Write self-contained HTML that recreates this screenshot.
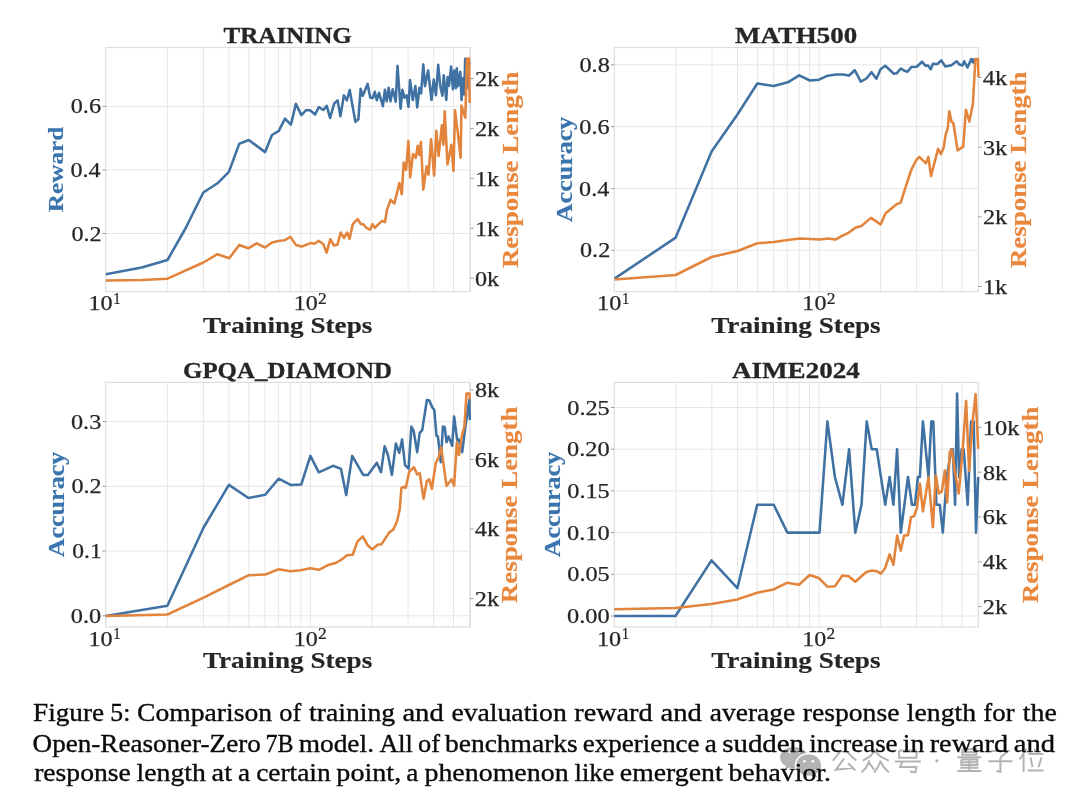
<!DOCTYPE html>
<html><head><meta charset="utf-8"><style>
html,body{margin:0;padding:0;background:#fff;width:1080px;height:804px;overflow:hidden}
svg{display:block;will-change:transform}
text{font-family:"Liberation Serif",serif}
</style></head><body>
<svg width="1080" height="804" viewBox="0 0 1080 804">
<rect width="1080" height="804" fill="#fff"/>
<path d="M167.32 47.50V291.60M203.37 47.50V291.60M228.94 47.50V291.60M248.78 47.50V291.60M264.99 47.50V291.60M278.69 47.50V291.60M290.56 47.50V291.60M301.03 47.50V291.60M310.40 47.50V291.60M372.02 47.50V291.60M408.07 47.50V291.60M433.64 47.50V291.60M453.48 47.50V291.60M469.69 47.50V291.60M105.70 233.50H470.40M105.70 169.95H470.40M105.70 106.40H470.40" stroke="#e6e6e6" stroke-width="1" fill="none"/>
<rect x="105.70" y="47.50" width="364.70" height="244.10" fill="none" stroke="#dedede" stroke-width="1.2"/>
<path d="M102.50 233.50H105.70M102.50 169.95H105.70M102.50 106.40H105.70M470.40 278.20H473.60M470.40 228.30H473.60M470.40 178.40H473.60M470.40 128.50H473.60M470.40 78.60H473.60" stroke="#9a9a9a" stroke-width="1" fill="none"/>
<text x="223.47" y="43.20" font-size="24.01" font-weight="bold" fill="#262626" stroke="#262626" stroke-width="0.3" textLength="128.45" lengthAdjust="spacingAndGlyphs">TRAINING</text>
<text x="71.45" y="240.59" font-size="21.94" font-weight="normal" fill="#262626" stroke="#262626" stroke-width="0.25" textLength="30.18" lengthAdjust="spacingAndGlyphs">0.2</text>
<text x="70.53" y="177.04" font-size="21.94" font-weight="normal" fill="#262626" stroke="#262626" stroke-width="0.25" textLength="30.15" lengthAdjust="spacingAndGlyphs">0.4</text>
<text x="70.77" y="113.49" font-size="21.94" font-weight="normal" fill="#262626" stroke="#262626" stroke-width="0.25" textLength="30.25" lengthAdjust="spacingAndGlyphs">0.6</text>
<text x="475.05" y="285.60" font-size="21.47" font-weight="normal" fill="#262626" stroke="#262626" stroke-width="0.25" textLength="24.15" lengthAdjust="spacingAndGlyphs">0k</text>
<text x="474.92" y="235.70" font-size="21.47" font-weight="normal" fill="#262626" stroke="#262626" stroke-width="0.25" textLength="24.28" lengthAdjust="spacingAndGlyphs">1k</text>
<text x="474.92" y="185.80" font-size="21.47" font-weight="normal" fill="#262626" stroke="#262626" stroke-width="0.25" textLength="24.28" lengthAdjust="spacingAndGlyphs">1k</text>
<text x="474.94" y="135.90" font-size="21.47" font-weight="normal" fill="#262626" stroke="#262626" stroke-width="0.25" textLength="24.26" lengthAdjust="spacingAndGlyphs">2k</text>
<text x="474.94" y="86.00" font-size="21.47" font-weight="normal" fill="#262626" stroke="#262626" stroke-width="0.25" textLength="24.26" lengthAdjust="spacingAndGlyphs">2k</text>
<text x="88.48" y="310.39" font-size="21.78" font-weight="normal" fill="#262626" stroke="#262626" stroke-width="0.25" textLength="24.14" lengthAdjust="spacingAndGlyphs">10</text>
<text x="113.30" y="303.50" font-size="15.75" font-weight="normal" fill="#262626" stroke="#262626" stroke-width="0.2" textLength="7.39" lengthAdjust="spacingAndGlyphs">1</text>
<text x="293.79" y="310.39" font-size="21.78" font-weight="normal" fill="#262626" stroke="#262626" stroke-width="0.25" textLength="24.03" lengthAdjust="spacingAndGlyphs">10</text>
<text x="318.13" y="303.50" font-size="15.71" font-weight="normal" fill="#262626" stroke="#262626" stroke-width="0.2" textLength="8.73" lengthAdjust="spacingAndGlyphs">2</text>
<text x="202.98" y="332.90" font-size="22.05" font-weight="bold" fill="#262626" stroke="#262626" stroke-width="0.15" textLength="169.38" lengthAdjust="spacingAndGlyphs">Training Steps</text>
<text transform="translate(63.25,211.90) rotate(-90)" x="-0.43" y="0" font-size="21.49" font-weight="bold" fill="#3a74ae" stroke="#3a74ae" stroke-width="0.15" textLength="85.61" lengthAdjust="spacingAndGlyphs">Reward</text>
<text transform="translate(517.51,267.66) rotate(-90)" x="-0.46" y="0" font-size="22.06" font-weight="bold" fill="#e9873c" stroke="#e9873c" stroke-width="0.15" textLength="196.68" lengthAdjust="spacingAndGlyphs">Response Length</text>
<path d="M675.92 47.50V291.60M711.97 47.50V291.60M737.54 47.50V291.60M757.38 47.50V291.60M773.59 47.50V291.60M787.29 47.50V291.60M799.16 47.50V291.60M809.63 47.50V291.60M819.00 47.50V291.60M880.62 47.50V291.60M916.67 47.50V291.60M942.24 47.50V291.60M962.08 47.50V291.60M614.30 250.30H978.40M614.30 188.47H978.40M614.30 126.63H978.40M614.30 64.80H978.40" stroke="#e6e6e6" stroke-width="1" fill="none"/>
<rect x="614.30" y="47.50" width="364.10" height="244.10" fill="none" stroke="#dedede" stroke-width="1.2"/>
<path d="M611.10 250.30H614.30M611.10 188.47H614.30M611.10 126.63H614.30M611.10 64.80H614.30M978.40 286.50H981.60M978.40 216.83H981.60M978.40 147.17H981.60M978.40 77.50H981.60" stroke="#9a9a9a" stroke-width="1" fill="none"/>
<text x="735.04" y="43.20" font-size="23.91" font-weight="bold" fill="#262626" stroke="#262626" stroke-width="0.3" textLength="122.18" lengthAdjust="spacingAndGlyphs">MATH500</text>
<text x="580.05" y="257.39" font-size="21.94" font-weight="normal" fill="#262626" stroke="#262626" stroke-width="0.25" textLength="30.18" lengthAdjust="spacingAndGlyphs">0.2</text>
<text x="579.13" y="195.56" font-size="21.94" font-weight="normal" fill="#262626" stroke="#262626" stroke-width="0.25" textLength="30.15" lengthAdjust="spacingAndGlyphs">0.4</text>
<text x="579.37" y="133.72" font-size="21.94" font-weight="normal" fill="#262626" stroke="#262626" stroke-width="0.25" textLength="30.25" lengthAdjust="spacingAndGlyphs">0.6</text>
<text x="579.45" y="71.89" font-size="21.94" font-weight="normal" fill="#262626" stroke="#262626" stroke-width="0.25" textLength="30.37" lengthAdjust="spacingAndGlyphs">0.8</text>
<text x="982.92" y="293.90" font-size="21.47" font-weight="normal" fill="#262626" stroke="#262626" stroke-width="0.25" textLength="24.28" lengthAdjust="spacingAndGlyphs">1k</text>
<text x="982.94" y="224.23" font-size="21.47" font-weight="normal" fill="#262626" stroke="#262626" stroke-width="0.25" textLength="24.26" lengthAdjust="spacingAndGlyphs">2k</text>
<text x="983.01" y="154.57" font-size="21.47" font-weight="normal" fill="#262626" stroke="#262626" stroke-width="0.25" textLength="24.19" lengthAdjust="spacingAndGlyphs">3k</text>
<text x="982.82" y="84.90" font-size="21.47" font-weight="normal" fill="#262626" stroke="#262626" stroke-width="0.25" textLength="24.39" lengthAdjust="spacingAndGlyphs">4k</text>
<text x="597.08" y="310.39" font-size="21.78" font-weight="normal" fill="#262626" stroke="#262626" stroke-width="0.25" textLength="24.14" lengthAdjust="spacingAndGlyphs">10</text>
<text x="621.90" y="303.50" font-size="15.75" font-weight="normal" fill="#262626" stroke="#262626" stroke-width="0.2" textLength="7.39" lengthAdjust="spacingAndGlyphs">1</text>
<text x="802.39" y="310.39" font-size="21.78" font-weight="normal" fill="#262626" stroke="#262626" stroke-width="0.25" textLength="24.03" lengthAdjust="spacingAndGlyphs">10</text>
<text x="826.73" y="303.50" font-size="15.71" font-weight="normal" fill="#262626" stroke="#262626" stroke-width="0.2" textLength="8.73" lengthAdjust="spacingAndGlyphs">2</text>
<text x="711.28" y="332.90" font-size="22.05" font-weight="bold" fill="#262626" stroke="#262626" stroke-width="0.15" textLength="169.38" lengthAdjust="spacingAndGlyphs">Training Steps</text>
<text transform="translate(571.85,221.97) rotate(-90)" x="-0.25" y="0" font-size="22.58" font-weight="bold" fill="#3a74ae" stroke="#3a74ae" stroke-width="0.15" textLength="105.56" lengthAdjust="spacingAndGlyphs">Accuracy</text>
<text transform="translate(1025.51,267.66) rotate(-90)" x="-0.46" y="0" font-size="22.06" font-weight="bold" fill="#e9873c" stroke="#e9873c" stroke-width="0.15" textLength="196.68" lengthAdjust="spacingAndGlyphs">Response Length</text>
<path d="M167.32 382.40V626.90M203.37 382.40V626.90M228.94 382.40V626.90M248.78 382.40V626.90M264.99 382.40V626.90M278.69 382.40V626.90M290.56 382.40V626.90M301.03 382.40V626.90M310.40 382.40V626.90M372.02 382.40V626.90M408.07 382.40V626.90M433.64 382.40V626.90M453.48 382.40V626.90M469.69 382.40V626.90M105.70 615.80H470.30M105.70 551.07H470.30M105.70 486.33H470.30M105.70 421.60H470.30" stroke="#e6e6e6" stroke-width="1" fill="none"/>
<rect x="105.70" y="382.40" width="364.60" height="244.50" fill="none" stroke="#dedede" stroke-width="1.2"/>
<path d="M102.50 615.80H105.70M102.50 551.07H105.70M102.50 486.33H105.70M102.50 421.60H105.70M470.30 598.60H473.50M470.30 529.00H473.50M470.30 459.40H473.50M470.30 389.80H473.50" stroke="#9a9a9a" stroke-width="1" fill="none"/>
<text x="183.06" y="378.00" font-size="24.01" font-weight="bold" fill="#262626" stroke="#262626" stroke-width="0.3" textLength="208.88" lengthAdjust="spacingAndGlyphs">GPQA_DIAMOND</text>
<text x="70.83" y="622.89" font-size="21.94" font-weight="normal" fill="#262626" stroke="#262626" stroke-width="0.25" textLength="30.39" lengthAdjust="spacingAndGlyphs">0.0</text>
<text x="72.33" y="558.16" font-size="21.94" font-weight="normal" fill="#262626" stroke="#262626" stroke-width="0.25" textLength="29.39" lengthAdjust="spacingAndGlyphs">0.1</text>
<text x="71.45" y="493.42" font-size="21.94" font-weight="normal" fill="#262626" stroke="#262626" stroke-width="0.25" textLength="30.18" lengthAdjust="spacingAndGlyphs">0.2</text>
<text x="70.99" y="428.69" font-size="21.94" font-weight="normal" fill="#262626" stroke="#262626" stroke-width="0.25" textLength="30.26" lengthAdjust="spacingAndGlyphs">0.3</text>
<text x="474.84" y="606.00" font-size="21.47" font-weight="normal" fill="#262626" stroke="#262626" stroke-width="0.25" textLength="24.26" lengthAdjust="spacingAndGlyphs">2k</text>
<text x="474.72" y="536.40" font-size="21.47" font-weight="normal" fill="#262626" stroke="#262626" stroke-width="0.25" textLength="24.39" lengthAdjust="spacingAndGlyphs">4k</text>
<text x="474.85" y="466.80" font-size="21.47" font-weight="normal" fill="#262626" stroke="#262626" stroke-width="0.25" textLength="24.26" lengthAdjust="spacingAndGlyphs">6k</text>
<text x="474.97" y="397.20" font-size="21.47" font-weight="normal" fill="#262626" stroke="#262626" stroke-width="0.25" textLength="24.13" lengthAdjust="spacingAndGlyphs">8k</text>
<text x="88.48" y="645.69" font-size="21.78" font-weight="normal" fill="#262626" stroke="#262626" stroke-width="0.25" textLength="24.14" lengthAdjust="spacingAndGlyphs">10</text>
<text x="113.30" y="638.80" font-size="15.75" font-weight="normal" fill="#262626" stroke="#262626" stroke-width="0.2" textLength="7.39" lengthAdjust="spacingAndGlyphs">1</text>
<text x="293.79" y="645.69" font-size="21.78" font-weight="normal" fill="#262626" stroke="#262626" stroke-width="0.25" textLength="24.03" lengthAdjust="spacingAndGlyphs">10</text>
<text x="318.13" y="638.80" font-size="15.71" font-weight="normal" fill="#262626" stroke="#262626" stroke-width="0.2" textLength="8.73" lengthAdjust="spacingAndGlyphs">2</text>
<text x="202.93" y="668.20" font-size="22.05" font-weight="bold" fill="#262626" stroke="#262626" stroke-width="0.15" textLength="169.38" lengthAdjust="spacingAndGlyphs">Training Steps</text>
<text transform="translate(63.56,557.07) rotate(-90)" x="-0.25" y="0" font-size="22.58" font-weight="bold" fill="#3a74ae" stroke="#3a74ae" stroke-width="0.15" textLength="105.56" lengthAdjust="spacingAndGlyphs">Accuracy</text>
<text transform="translate(517.41,602.76) rotate(-90)" x="-0.46" y="0" font-size="22.06" font-weight="bold" fill="#e9873c" stroke="#e9873c" stroke-width="0.15" textLength="196.68" lengthAdjust="spacingAndGlyphs">Response Length</text>
<path d="M675.82 382.40V627.00M711.87 382.40V627.00M737.44 382.40V627.00M757.28 382.40V627.00M773.49 382.40V627.00M787.19 382.40V627.00M799.06 382.40V627.00M809.53 382.40V627.00M818.90 382.40V627.00M880.52 382.40V627.00M916.57 382.40V627.00M942.14 382.40V627.00M961.98 382.40V627.00M614.20 616.00H978.30M614.20 574.30H978.30M614.20 532.60H978.30M614.20 490.90H978.30M614.20 449.20H978.30M614.20 407.50H978.30" stroke="#e6e6e6" stroke-width="1" fill="none"/>
<rect x="614.20" y="382.40" width="364.10" height="244.60" fill="none" stroke="#dedede" stroke-width="1.2"/>
<path d="M611.00 616.00H614.20M611.00 574.30H614.20M611.00 532.60H614.20M611.00 490.90H614.20M611.00 449.20H614.20M611.00 407.50H614.20M978.30 606.60H981.50M978.30 561.80H981.50M978.30 517.00H981.50M978.30 472.20H981.50M978.30 427.40H981.50" stroke="#9a9a9a" stroke-width="1" fill="none"/>
<text x="731.97" y="378.00" font-size="23.91" font-weight="bold" fill="#262626" stroke="#262626" stroke-width="0.3" textLength="127.80" lengthAdjust="spacingAndGlyphs">AIME2024</text>
<text x="567.05" y="623.09" font-size="21.94" font-weight="normal" fill="#262626" stroke="#262626" stroke-width="0.25" textLength="42.68" lengthAdjust="spacingAndGlyphs">0.00</text>
<text x="567.26" y="581.39" font-size="21.94" font-weight="normal" fill="#262626" stroke="#262626" stroke-width="0.25" textLength="42.48" lengthAdjust="spacingAndGlyphs">0.05</text>
<text x="567.05" y="539.69" font-size="21.94" font-weight="normal" fill="#262626" stroke="#262626" stroke-width="0.25" textLength="42.68" lengthAdjust="spacingAndGlyphs">0.10</text>
<text x="567.26" y="497.99" font-size="21.94" font-weight="normal" fill="#262626" stroke="#262626" stroke-width="0.25" textLength="42.48" lengthAdjust="spacingAndGlyphs">0.15</text>
<text x="567.05" y="456.29" font-size="21.94" font-weight="normal" fill="#262626" stroke="#262626" stroke-width="0.25" textLength="42.68" lengthAdjust="spacingAndGlyphs">0.20</text>
<text x="567.26" y="414.59" font-size="21.94" font-weight="normal" fill="#262626" stroke="#262626" stroke-width="0.25" textLength="42.48" lengthAdjust="spacingAndGlyphs">0.25</text>
<text x="982.84" y="614.00" font-size="21.47" font-weight="normal" fill="#262626" stroke="#262626" stroke-width="0.25" textLength="24.26" lengthAdjust="spacingAndGlyphs">2k</text>
<text x="982.72" y="569.20" font-size="21.47" font-weight="normal" fill="#262626" stroke="#262626" stroke-width="0.25" textLength="24.39" lengthAdjust="spacingAndGlyphs">4k</text>
<text x="982.85" y="524.40" font-size="21.47" font-weight="normal" fill="#262626" stroke="#262626" stroke-width="0.25" textLength="24.26" lengthAdjust="spacingAndGlyphs">6k</text>
<text x="982.97" y="479.60" font-size="21.47" font-weight="normal" fill="#262626" stroke="#262626" stroke-width="0.25" textLength="24.13" lengthAdjust="spacingAndGlyphs">8k</text>
<text x="982.81" y="434.80" font-size="21.47" font-weight="normal" fill="#262626" stroke="#262626" stroke-width="0.25" textLength="36.57" lengthAdjust="spacingAndGlyphs">10k</text>
<text x="596.98" y="645.79" font-size="21.78" font-weight="normal" fill="#262626" stroke="#262626" stroke-width="0.25" textLength="24.14" lengthAdjust="spacingAndGlyphs">10</text>
<text x="621.80" y="638.90" font-size="15.75" font-weight="normal" fill="#262626" stroke="#262626" stroke-width="0.2" textLength="7.39" lengthAdjust="spacingAndGlyphs">1</text>
<text x="802.29" y="645.79" font-size="21.78" font-weight="normal" fill="#262626" stroke="#262626" stroke-width="0.25" textLength="24.03" lengthAdjust="spacingAndGlyphs">10</text>
<text x="826.63" y="638.90" font-size="15.71" font-weight="normal" fill="#262626" stroke="#262626" stroke-width="0.2" textLength="8.73" lengthAdjust="spacingAndGlyphs">2</text>
<text x="711.18" y="668.30" font-size="22.05" font-weight="bold" fill="#262626" stroke="#262626" stroke-width="0.15" textLength="169.38" lengthAdjust="spacingAndGlyphs">Training Steps</text>
<text transform="translate(559.78,557.12) rotate(-90)" x="-0.25" y="0" font-size="22.58" font-weight="bold" fill="#3a74ae" stroke="#3a74ae" stroke-width="0.15" textLength="105.56" lengthAdjust="spacingAndGlyphs">Accuracy</text>
<text transform="translate(1037.69,602.81) rotate(-90)" x="-0.46" y="0" font-size="22.06" font-weight="bold" fill="#e9873c" stroke="#e9873c" stroke-width="0.15" textLength="196.68" lengthAdjust="spacingAndGlyphs">Response Length</text>
<path d="M105.80 274.20L141.75 267.50L167.50 260.00L186.00 227.50L203.30 192.50L217.50 183.30L228.90 171.90L239.20 143.90L248.70 140.00L265.10 152.10L272.00 135.00L278.80 130.90L285.00 118.60L290.90 124.70L295.90 103.90L301.40 115.10L306.20 110.00L310.30 110.40L315.10 114.50L318.80 107.20L323.30 110.00L326.70 105.80L330.10 117.90L334.20 103.50L337.60 100.40L340.40 116.20L343.90 95.30L346.90 100.30L349.70 90.00L355.40 121.90L358.40 119.20L360.60 88.80L362.80 95.80L367.60 83.90L370.30 97.80L372.80 98.00L374.80 91.80L376.80 100.30L379.00 92.80L382.90 106.20L384.90 89.80L386.70 101.30L388.70 87.80L390.50 101.30L392.70 89.30L395.70 101.80L397.50 65.90L400.60 108.70L402.40 89.80L404.60 97.80L406.70 95.30L408.50 107.00L410.00 80.00L412.80 100.00L415.40 86.10L417.20 107.40L419.40 87.90L421.10 93.50L423.30 64.40L425.00 86.10L428.10 70.50L431.50 100.00L433.70 79.60L435.90 95.30L438.20 64.80L440.20 85.70L442.40 95.70L443.70 75.20L446.30 100.00L447.60 77.00L449.00 85.70L451.10 66.50L452.90 89.20L454.20 70.50L455.90 88.30L456.80 68.30L458.10 86.10L460.30 71.80L461.60 100.00L462.90 78.30L464.20 94.40L465.20 58.70L467.30 88.00L469.30 62.00" stroke="#4071a3" stroke-width="2.55" fill="none" stroke-linejoin="round" stroke-linecap="butt"/>
<path d="M105.80 280.50L141.70 280.00L167.50 278.70L203.30 262.50L217.50 254.20L229.20 258.30L239.20 245.00L248.30 248.30L256.70 243.30L265.00 247.50L272.10 242.50L278.40 240.90L284.40 240.30L290.40 236.90L296.00 245.10L301.60 246.60L310.50 243.10L314.60 243.70L318.70 240.70L323.20 244.00L326.60 252.60L330.30 239.20L334.00 245.50L337.40 244.80L340.70 232.50L344.00 238.00L347.20 232.50L349.60 239.00L352.80 224.10L357.60 219.00L360.80 224.10L363.60 224.60L366.40 227.80L370.10 229.70L372.50 224.10L374.80 227.80L378.50 224.10L382.20 220.90L385.00 222.20L386.90 210.10L390.60 199.80L394.40 203.50L399.40 183.00L401.80 194.20L403.70 162.50L406.10 170.00L408.40 141.00L410.20 177.40L413.00 154.10L415.80 157.80L417.70 145.70L419.20 155.00L420.90 142.00L423.30 189.60L426.60 166.20L428.50 174.60L431.10 139.20L434.10 175.60L436.30 130.80L438.60 156.00L441.90 125.20L443.40 144.80L444.70 111.20L447.50 164.40L451.30 144.80L453.50 170.90L455.00 110.30L457.80 132.60L460.60 157.80L461.50 105.60L463.50 112.00L465.30 117.70L467.00 58.50L468.90 58.50L469.70 103.00" stroke="#e2843c" stroke-width="2.55" fill="none" stroke-linejoin="round" stroke-linecap="butt"/>
<path d="M614.50 278.60L675.70 237.60L711.60 151.60L737.60 114.20L757.30 83.50L773.70 85.90L787.80 82.30L799.20 75.30L809.90 80.50L819.00 79.70L827.70 75.70L836.30 74.40L843.00 74.40L849.10 75.50L854.70 70.20L860.80 81.60L866.40 78.50L871.50 72.20L876.40 78.70L880.60 69.30L885.20 65.80L893.80 73.75L896.70 73.30L900.80 68.50L904.60 70.80L907.50 71.80L911.30 67.10L916.70 66.70L922.10 61.70L925.40 65.80L927.90 65.40L930.80 69.20L932.90 63.75L937.50 64.00L941.30 60.40L945.40 66.50L951.30 65.25L956.70 61.25L959.60 64.60L962.50 65.40L964.20 61.25L967.50 67.50L971.25 59.00L972.90 62.50L974.20 58.30" stroke="#4071a3" stroke-width="2.55" fill="none" stroke-linejoin="round" stroke-linecap="butt"/>
<path d="M614.50 279.50L675.70 275.00L711.60 257.00L737.60 251.00L757.30 243.30L773.70 242.10L787.80 240.00L800.00 238.40L810.30 239.00L819.60 239.60L828.00 238.40L835.40 239.60L842.00 235.80L848.50 232.80L856.00 227.40L861.60 225.90L870.90 217.90L880.60 224.40L885.40 213.40L891.40 208.60L897.00 204.10L900.70 202.60L906.30 184.90L911.60 169.00L916.60 159.70L919.40 156.90L925.90 163.40L928.40 156.90L931.00 176.10L938.10 148.90L940.90 154.10L943.70 147.60L945.50 135.40L947.80 128.00L949.30 111.20L951.50 121.50L953.40 123.30L957.60 150.40L963.20 146.60L965.90 109.70L969.40 121.60L972.90 103.70L975.40 59.00L977.90 59.00L978.40 77.00" stroke="#e2843c" stroke-width="2.55" fill="none" stroke-linejoin="round" stroke-linecap="butt"/>
<path d="M105.70 616.00L167.40 605.70L203.60 527.50L228.90 484.90L248.40 498.00L265.20 494.80L278.60 478.70L290.60 484.90L301.20 484.60L310.40 455.90L318.80 472.30L333.10 465.80L341.00 468.90L346.20 495.10L352.20 455.90L363.20 474.90L367.90 474.90L376.80 462.70L381.00 472.30L384.60 446.20L388.00 455.30L391.90 474.90L395.90 443.60L399.30 452.70L402.10 439.40L405.00 465.10L408.60 468.70L411.40 426.50L413.60 430.80L417.20 452.20L419.70 432.90L422.20 430.10L426.90 400.00L429.30 400.50L432.20 407.20L434.30 410.00L436.50 435.80L437.90 436.50L440.80 462.30L442.90 426.50L444.80 427.20L446.50 442.20L448.60 436.50L452.20 445.80L454.10 416.50L457.20 440.10L458.70 439.40L462.20 452.20L465.80 423.60L469.40 399.30L469.80 420.00" stroke="#4071a3" stroke-width="2.55" fill="none" stroke-linejoin="round" stroke-linecap="butt"/>
<path d="M105.70 616.00L167.40 614.50L203.60 597.70L228.90 585.00L248.40 575.30L265.20 574.60L278.60 569.30L290.60 571.20L300.50 570.30L310.40 568.30L318.80 569.80L327.90 565.10L335.70 563.00L341.00 559.90L347.00 555.20L352.70 554.70L357.40 541.60L362.70 536.40L367.90 545.50L372.30 549.40L377.60 544.70L381.50 544.20L389.30 532.40L393.20 529.80L397.20 520.70L399.80 508.90L401.40 488.00L403.60 486.90L405.70 488.00L409.30 471.50L414.00 467.30L417.20 474.40L419.70 473.00L423.60 498.70L426.90 480.90L429.30 479.40L431.80 488.70L435.80 463.00L438.60 457.20L441.20 447.20L446.50 485.90L449.40 482.30L451.50 479.40L454.10 485.90L456.90 442.20L458.90 455.10L462.20 434.40L464.40 426.50L466.50 393.60L469.40 393.60L469.80 399.30" stroke="#e2843c" stroke-width="2.55" fill="none" stroke-linejoin="round" stroke-linecap="butt"/>
<path d="M614.20 616.00L675.50 616.00L711.50 560.40L737.40 588.20L757.20 504.80L773.70 504.80L787.40 532.60L819.50 532.60L827.40 421.40L834.90 477.00L842.40 504.80L849.10 449.20L855.30 532.60L861.50 504.80L866.70 421.40L871.70 449.20L876.70 449.20L885.20 504.80L889.60 477.00L893.40 504.80L897.10 449.20L900.80 532.60L908.00 477.00L912.00 504.80L915.00 504.80L917.90 477.00L919.90 477.00L922.90 421.40L928.50 477.00L931.30 421.40L933.30 421.40L936.40 504.80L939.80 504.80L942.80 532.60L946.80 477.00L951.20 449.20L952.80 449.20L955.10 504.80L957.10 393.60L959.10 477.00L961.70 449.20L963.70 449.20L967.70 504.80L971.10 421.40L973.70 421.40L976.00 532.60L978.20 477.00" stroke="#4071a3" stroke-width="2.55" fill="none" stroke-linejoin="round" stroke-linecap="butt"/>
<path d="M614.20 609.20L675.50 608.00L711.50 604.00L737.40 599.40L757.20 592.70L773.70 589.40L787.40 582.70L799.00 584.80L809.60 575.00L818.70 578.00L827.40 586.70L834.90 586.20L842.40 575.50L848.60 576.20L855.30 581.70L866.00 572.20L871.70 570.50L876.70 571.20L880.90 573.70L885.20 568.00L889.60 554.30L893.40 564.80L897.10 535.60L900.80 550.60L904.10 535.60L908.00 535.20L911.00 517.30L914.00 516.30L916.90 508.40L919.90 483.50L922.90 511.40L928.50 477.50L932.90 527.30L935.80 475.50L938.80 493.50L941.80 491.50L944.80 470.60L947.20 502.40L949.80 451.70L951.80 449.70L954.80 470.60L958.70 493.50L962.70 449.70L966.10 400.90L969.10 470.60L972.70 420.80L975.60 394.00L978.20 448.70" stroke="#e2843c" stroke-width="2.55" fill="none" stroke-linejoin="round" stroke-linecap="butt"/>
<g opacity="1">
<ellipse cx="794" cy="757.5" rx="14" ry="10.5" fill="#b3b3b3"/>
<path d="M786 765 L785 769.5 L793 766 Z" fill="#b3b3b3"/>
<ellipse cx="808.6" cy="765" rx="13.8" ry="11.9" fill="#fff"/>
<ellipse cx="808.6" cy="765" rx="12.5" ry="10.6" fill="#b3b3b3"/>
<path d="M813 773 L818 777.5 L807 774.5 Z" fill="#b3b3b3"/>
<circle cx="789.8" cy="752" r="1.4" fill="#fff"/><circle cx="799.4" cy="752" r="1.4" fill="#fff"/>
<circle cx="804.5" cy="761.3" r="1.4" fill="#fff"/><circle cx="812.9" cy="761.3" r="1.4" fill="#fff"/>
</g>
<path d="M840.97 750.51L832.75 760.54M846.10 750.51L851.24 755.98L856.37 760.54M844.05 758.72L835.83 769.65L853.29 767.83M848.16 763.27L855.35 770.57" stroke="#b3b3b3" stroke-width="2.0" fill="none" stroke-linecap="butt" stroke-linejoin="miter" opacity="1"/>
<path d="M875.20 749.60L870.65 755.98L862.68 760.54M875.20 751.42L880.89 756.89L888.86 760.54M869.51 760.54L866.09 767.83L861.54 772.39M869.51 763.27L874.06 769.65M880.89 760.54L877.48 767.83L874.06 772.39M880.89 762.36L884.31 767.83L888.86 772.39" stroke="#b3b3b3" stroke-width="2.0" fill="none" stroke-linecap="butt" stroke-linejoin="miter" opacity="1"/>
<path d="M899.12 750.51L916.48 750.51L916.48 757.80L899.12 757.80L899.12 750.51M894.78 761.45L920.82 761.45M902.38 761.45L900.21 766.92L916.48 766.92L915.39 772.39L909.97 771.48" stroke="#b3b3b3" stroke-width="2.0" fill="none" stroke-linecap="butt" stroke-linejoin="miter" opacity="1"/>
<circle cx="936.9" cy="760.8" r="1.6" fill="#b3b3b3" opacity="1"/>
<path d="M962.30 749.32L976.30 749.32L976.30 754.86L962.30 754.86L962.30 749.32M962.30 752.09L976.30 752.09M957.30 757.17L981.30 757.17M961.30 759.48L977.30 759.48L977.30 765.02L961.30 765.02L961.30 759.48M961.30 762.25L977.30 762.25M969.30 759.48L969.30 770.55M960.30 767.78L978.30 767.78M957.30 771.02L981.30 771.02" stroke="#b3b3b3" stroke-width="2.0" fill="none" stroke-linecap="butt" stroke-linejoin="miter" opacity="1"/>
<path d="M991.40 750.90L1008.40 750.90L1000.40 757.55M1000.40 757.55L1000.40 771.80L996.40 770.85M988.40 761.35L1012.40 761.35" stroke="#b3b3b3" stroke-width="2.0" fill="none" stroke-linecap="butt" stroke-linejoin="miter" opacity="1"/>
<path d="M1026.57 748.77L1019.60 759.43M1023.58 754.58L1023.58 772.03M1034.54 748.77L1035.53 751.68M1028.56 754.10L1043.50 754.10M1030.55 757.49L1032.55 767.18M1041.51 757.49L1038.52 767.18M1027.57 770.58L1043.50 770.58" stroke="#b3b3b3" stroke-width="2.0" fill="none" stroke-linecap="butt" stroke-linejoin="miter" opacity="1"/>
<text x="33.12" y="720.80" font-size="25.00" font-weight="normal" fill="#0a0a0a" stroke="#0a0a0a" stroke-width="0.35" textLength="70.94" lengthAdjust="spacingAndGlyphs">Figure</text>
<text x="110.39" y="720.80" font-size="25.00" font-weight="normal" fill="#0a0a0a" stroke="#0a0a0a" stroke-width="0.35" textLength="19.98" lengthAdjust="spacingAndGlyphs">5:</text>
<text x="137.05" y="720.80" font-size="25.00" font-weight="normal" fill="#0a0a0a" stroke="#0a0a0a" stroke-width="0.35" textLength="134.96" lengthAdjust="spacingAndGlyphs">Comparison</text>
<text x="279.31" y="720.80" font-size="25.00" font-weight="normal" fill="#0a0a0a" stroke="#0a0a0a" stroke-width="0.35" textLength="21.97" lengthAdjust="spacingAndGlyphs">of</text>
<text x="309.04" y="720.80" font-size="25.00" font-weight="normal" fill="#0a0a0a" stroke="#0a0a0a" stroke-width="0.35" textLength="86.15" lengthAdjust="spacingAndGlyphs">training</text>
<text x="402.43" y="720.80" font-size="25.00" font-weight="normal" fill="#0a0a0a" stroke="#0a0a0a" stroke-width="0.35" textLength="41.30" lengthAdjust="spacingAndGlyphs">and</text>
<text x="451.41" y="720.80" font-size="25.00" font-weight="normal" fill="#0a0a0a" stroke="#0a0a0a" stroke-width="0.35" textLength="115.35" lengthAdjust="spacingAndGlyphs">evaluation</text>
<text x="574.22" y="720.80" font-size="25.00" font-weight="normal" fill="#0a0a0a" stroke="#0a0a0a" stroke-width="0.35" textLength="78.42" lengthAdjust="spacingAndGlyphs">reward</text>
<text x="660.54" y="720.80" font-size="25.00" font-weight="normal" fill="#0a0a0a" stroke="#0a0a0a" stroke-width="0.35" textLength="41.30" lengthAdjust="spacingAndGlyphs">and</text>
<text x="709.78" y="720.80" font-size="25.00" font-weight="normal" fill="#0a0a0a" stroke="#0a0a0a" stroke-width="0.35" textLength="85.56" lengthAdjust="spacingAndGlyphs">average</text>
<text x="802.80" y="720.80" font-size="25.00" font-weight="normal" fill="#0a0a0a" stroke="#0a0a0a" stroke-width="0.35" textLength="96.60" lengthAdjust="spacingAndGlyphs">response</text>
<text x="906.85" y="720.80" font-size="25.00" font-weight="normal" fill="#0a0a0a" stroke="#0a0a0a" stroke-width="0.35" textLength="69.21" lengthAdjust="spacingAndGlyphs">length</text>
<text x="983.36" y="720.80" font-size="25.00" font-weight="normal" fill="#0a0a0a" stroke="#0a0a0a" stroke-width="0.35" textLength="31.22" lengthAdjust="spacingAndGlyphs">for</text>
<text x="1022.82" y="720.80" font-size="25.00" font-weight="normal" fill="#0a0a0a" stroke="#0a0a0a" stroke-width="0.35" textLength="33.94" lengthAdjust="spacingAndGlyphs">the</text>
<text x="32.59" y="751.50" font-size="25.00" font-weight="normal" fill="#0a0a0a" stroke="#0a0a0a" stroke-width="0.35" textLength="228.21" lengthAdjust="spacingAndGlyphs">Open-Reasoner-Zero</text>
<text x="265.57" y="751.50" font-size="25.00" font-weight="normal" fill="#0a0a0a" stroke="#0a0a0a" stroke-width="0.35" textLength="28.06" lengthAdjust="spacingAndGlyphs">7B</text>
<text x="298.65" y="751.50" font-size="25.00" font-weight="normal" fill="#0a0a0a" stroke="#0a0a0a" stroke-width="0.35" textLength="75.38" lengthAdjust="spacingAndGlyphs">model.</text>
<text x="379.49" y="751.50" font-size="25.00" font-weight="normal" fill="#0a0a0a" stroke="#0a0a0a" stroke-width="0.35" textLength="33.26" lengthAdjust="spacingAndGlyphs">All</text>
<text x="418.02" y="751.50" font-size="25.00" font-weight="normal" fill="#0a0a0a" stroke="#0a0a0a" stroke-width="0.35" textLength="21.97" lengthAdjust="spacingAndGlyphs">of</text>
<text x="444.93" y="751.50" font-size="25.00" font-weight="normal" fill="#0a0a0a" stroke="#0a0a0a" stroke-width="0.35" textLength="132.91" lengthAdjust="spacingAndGlyphs">benchmarks</text>
<text x="582.76" y="751.50" font-size="25.00" font-weight="normal" fill="#0a0a0a" stroke="#0a0a0a" stroke-width="0.35" textLength="116.84" lengthAdjust="spacingAndGlyphs">experience</text>
<text x="704.77" y="751.50" font-size="25.00" font-weight="normal" fill="#0a0a0a" stroke="#0a0a0a" stroke-width="0.35" textLength="12.09" lengthAdjust="spacingAndGlyphs">a</text>
<text x="722.26" y="751.50" font-size="25.00" font-weight="normal" fill="#0a0a0a" stroke="#0a0a0a" stroke-width="0.35" textLength="81.80" lengthAdjust="spacingAndGlyphs">sudden</text>
<text x="809.34" y="751.50" font-size="25.00" font-weight="normal" fill="#0a0a0a" stroke="#0a0a0a" stroke-width="0.35" textLength="88.25" lengthAdjust="spacingAndGlyphs">increase</text>
<text x="902.86" y="751.50" font-size="25.00" font-weight="normal" fill="#0a0a0a" stroke="#0a0a0a" stroke-width="0.35" textLength="21.55" lengthAdjust="spacingAndGlyphs">in</text>
<text x="929.70" y="751.50" font-size="25.00" font-weight="normal" fill="#0a0a0a" stroke="#0a0a0a" stroke-width="0.35" textLength="78.42" lengthAdjust="spacingAndGlyphs">reward</text>
<text x="1013.85" y="751.50" font-size="25.00" font-weight="normal" fill="#0a0a0a" stroke="#0a0a0a" stroke-width="0.35" textLength="41.30" lengthAdjust="spacingAndGlyphs">and</text>
<text x="34.15" y="781.40" font-size="25.00" font-weight="normal" fill="#0a0a0a" stroke="#0a0a0a" stroke-width="0.35" textLength="96.60" lengthAdjust="spacingAndGlyphs">response</text>
<text x="136.64" y="781.40" font-size="25.00" font-weight="normal" fill="#0a0a0a" stroke="#0a0a0a" stroke-width="0.35" textLength="69.21" lengthAdjust="spacingAndGlyphs">length</text>
<text x="211.64" y="781.40" font-size="25.00" font-weight="normal" fill="#0a0a0a" stroke="#0a0a0a" stroke-width="0.35" textLength="20.46" lengthAdjust="spacingAndGlyphs">at</text>
<text x="238.07" y="781.40" font-size="25.00" font-weight="normal" fill="#0a0a0a" stroke="#0a0a0a" stroke-width="0.35" textLength="12.09" lengthAdjust="spacingAndGlyphs">a</text>
<text x="256.23" y="781.40" font-size="25.00" font-weight="normal" fill="#0a0a0a" stroke="#0a0a0a" stroke-width="0.35" textLength="74.45" lengthAdjust="spacingAndGlyphs">certain</text>
<text x="336.38" y="781.40" font-size="25.00" font-weight="normal" fill="#0a0a0a" stroke="#0a0a0a" stroke-width="0.35" textLength="64.80" lengthAdjust="spacingAndGlyphs">point,</text>
<text x="406.15" y="781.40" font-size="25.00" font-weight="normal" fill="#0a0a0a" stroke="#0a0a0a" stroke-width="0.35" textLength="12.09" lengthAdjust="spacingAndGlyphs">a</text>
<text x="424.46" y="781.40" font-size="25.00" font-weight="normal" fill="#0a0a0a" stroke="#0a0a0a" stroke-width="0.35" textLength="144.17" lengthAdjust="spacingAndGlyphs">phenomenon</text>
<text x="574.57" y="781.40" font-size="25.00" font-weight="normal" fill="#0a0a0a" stroke="#0a0a0a" stroke-width="0.35" textLength="39.72" lengthAdjust="spacingAndGlyphs">like</text>
<text x="619.82" y="781.40" font-size="25.00" font-weight="normal" fill="#0a0a0a" stroke="#0a0a0a" stroke-width="0.35" textLength="102.90" lengthAdjust="spacingAndGlyphs">emergent</text>
<text x="728.49" y="781.40" font-size="25.00" font-weight="normal" fill="#0a0a0a" stroke="#0a0a0a" stroke-width="0.35" textLength="102.46" lengthAdjust="spacingAndGlyphs">behavior.</text>
</svg></body></html>
